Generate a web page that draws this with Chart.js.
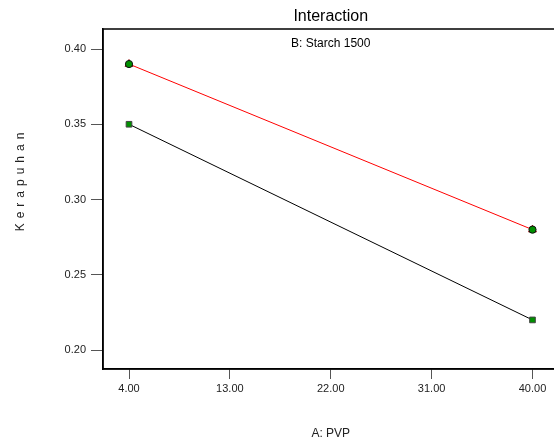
<!DOCTYPE html>
<html lang="id">
<head>
    <meta charset="UTF-8">
    <title>Interaction</title>
    <script src="https://cdn.jsdelivr.net/npm/chart.js"></script>
    <style>
        body { margin: 0; background: #fff; overflow: hidden; }
    </style>
</head>
<body>
    <!-- a little wider than the window: the box runs off the right edge like the original -->
    <canvas id="chart" width="564" height="441"></canvas>

    <script>
        // data
        const pvp = [4, 40];
        const starchHigh = [0.39, 0.28];
        const starchLow = [0.35, 0.22];
        const xTicks = [4, 13, 22, 31, 40];
        const yTicks = [0.20, 0.25, 0.30, 0.35, 0.40];

        const toPoints = (xs, ys) => xs.map((x, i) => ({ x: x, y: ys[i] }));
        const font = "'Liberation Sans', Arial, sans-serif";

        // box border, subtitle inside the plot, spaced y title
        const frame = {
            id: "frame",
            afterDraw(chart) {
                const ctx = chart.ctx;
                const a = chart.chartArea;
                ctx.save();
                ctx.strokeStyle = "#000";
                ctx.lineWidth = 1.5;
                ctx.strokeRect(a.left, a.top, a.right - a.left, a.bottom - a.top);
                ctx.fillStyle = "#000";
                ctx.font = "12px " + font;
                ctx.textAlign = "center";
                ctx.textBaseline = "middle";
                ctx.fillText("B: Starch 1500", (a.left + a.right) / 2, a.top + 15);

                ctx.translate(21, 182);
                ctx.rotate(-Math.PI / 2);
                ctx.fillStyle = "#222";
                ctx.letterSpacing = "5px";
                ctx.fillText("Kerapuhan", 2.5, 0);
                ctx.restore();
            }
        };

        const green = "#009000";

        new Chart(document.getElementById("chart"), {
            type: "scatter",
            data: {
                datasets: [
                    {
                        label: "design",
                        data: toPoints(pvp, starchHigh),
                        showLine: false,
                        pointStyle: "circle",
                        pointRadius: 3.6,
                        pointBackgroundColor: green,
                        pointBorderColor: "#111",
                        pointBorderWidth: 1,
                        order: 0
                    },
                    {
                        label: "B+",
                        data: toPoints(pvp, starchHigh),
                        showLine: true,
                        borderColor: "#ff0000",
                        borderWidth: 1,
                        pointStyle: "triangle",
                        pointRadius: 4.5,
                        pointBackgroundColor: "#8b0000",
                        pointBorderColor: "#8b0000",
                        order: 1
                    },
                    {
                        label: "B-",
                        data: toPoints(pvp, starchLow),
                        showLine: true,
                        borderColor: "#000",
                        borderWidth: 1,
                        pointStyle: "rect",
                        pointRadius: 4,
                        pointBackgroundColor: green,
                        pointBorderColor: "#444",
                        pointBorderWidth: 1,
                        order: 2
                    }
                ]
            },
            options: {
                responsive: false,
                animation: false,
                layout: { padding: 0 },
                plugins: {
                    legend: { display: false },
                    tooltip: { enabled: false },
                    title: {
                        display: true,
                        fullSize: false,
                        text: "Interaction",
                        color: "#000",
                        font: { family: font, size: 16, weight: "normal" },
                        padding: { top: 7, bottom: 2.8 }
                    }
                },
                scales: {
                    x: {
                        type: "linear",
                        min: 1.68,
                        max: 42.32,
                        afterFit: (s) => { s.height = 72; },
                        afterBuildTicks: (s) => { s.ticks = xTicks.map(v => ({ value: v })); },
                        border: { color: "#000", width: 1.5 },
                        grid: { drawOnChartArea: false, drawTicks: true, tickLength: 10, color: "#555" },
                        ticks: {
                            color: "#222",
                            padding: 3,
                            maxRotation: 0,
                            font: { family: font, size: 11 },
                            callback: (v) => v.toFixed(2)
                        },
                        title: {
                            display: true,
                            text: "A: PVP",
                            color: "#222",
                            font: { family: font, size: 12 },
                            padding: { top: 0, bottom: 0 }
                        }
                    },
                    y: {
                        type: "linear",
                        min: 0.1874,
                        max: 0.4133,
                        afterFit: (s) => { s.width = 103; },
                        afterBuildTicks: (s) => { s.ticks = yTicks.map(v => ({ value: v })); },
                        border: { color: "#000", width: 1.5 },
                        grid: { drawOnChartArea: false, drawTicks: true, tickLength: 12, color: "#555" },
                        ticks: {
                            color: "#222",
                            padding: 5,
                            font: { family: font, size: 11 },
                            callback: (v) => v.toFixed(2)
                        }
                    }
                }
            },
            plugins: [frame]
        });
    </script>
</body>
</html>
